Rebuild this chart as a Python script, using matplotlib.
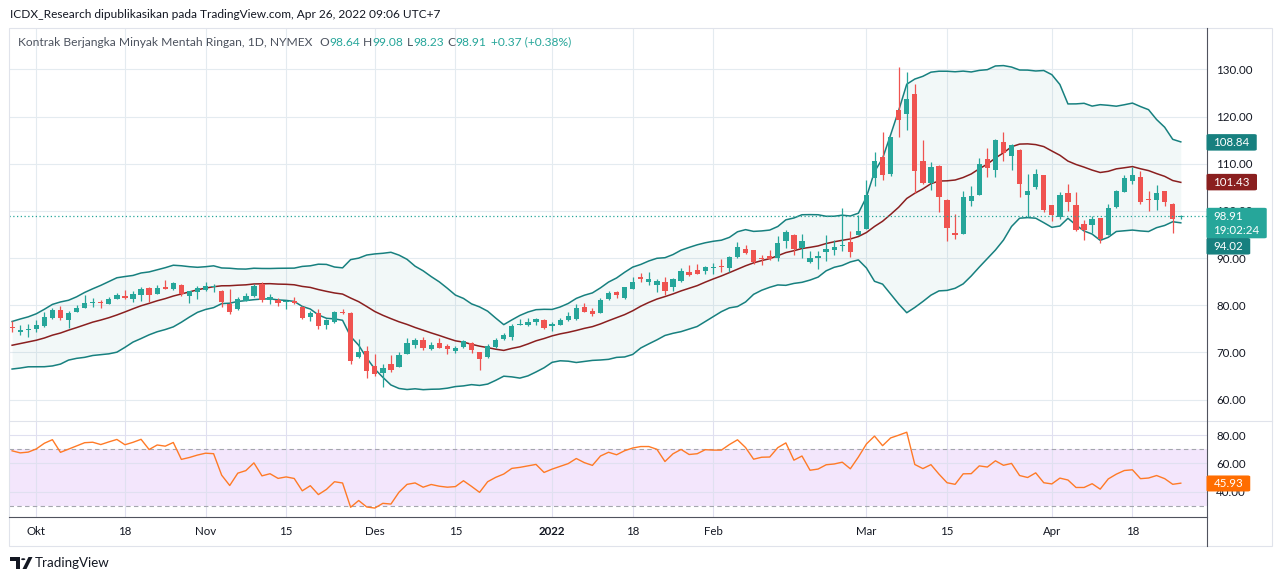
import numpy as np
import pandas as pd
import matplotlib
matplotlib.use('Agg')
import matplotlib.pyplot as plt
from matplotlib.lines import Line2D
from matplotlib.patches import Rectangle, FancyBboxPatch, Polygon, Circle

# ---------------- data ----------------
# closes of the sessions before the first visible bar (needed to warm up BB(20) / RSI(14))
warmup_closes = [68.50, 68.59, 69.99, 69.29, 68.35, 69.30, 67.68, 69.72, 70.45, 70.46,
                 72.61, 72.61, 71.97, 70.29, 70.56, 72.23, 73.30, 73.98, 75.45]

opens = [75.50, 74.35, 74.76, 75.03, 75.60, 77.40, 79.00, 76.80, 78.67, 79.50,
         80.42, 80.63, 80.35, 81.40, 81.96, 81.33, 82.24, 83.70, 82.45, 83.78,
         83.50, 84.34, 82.03, 82.87, 83.22, 83.80, 83.00, 80.28, 79.16, 80.98,
         81.89, 84.60, 81.12, 81.05, 80.63, 80.91, 79.70, 77.46, 78.45, 75.77,
         76.41, 78.59, 78.45, 69.08, 70.21, 67.04, 65.56, 67.61, 66.90, 69.65,
         71.69, 72.54, 70.70, 72.11, 71.27, 70.28, 71.13, 72.11, 70.00, 69.01,
         71.06, 72.96, 73.24, 75.92, 75.92, 76.41, 76.83, 75.56, 75.92, 76.83,
         77.18, 79.72, 78.87, 78.31, 81.27, 82.85, 81.57, 83.43, 86.00, 85.00,
         84.29, 84.93, 83.86, 85.14, 87.07, 87.50, 87.36, 88.00, 88.36, 87.86,
         90.14, 91.93, 91.71, 90.00, 90.35, 89.93, 93.72, 94.91, 92.10, 89.09,
         90.00, 91.19, 91.68, 92.53, 93.44, 94.91, 96.10, 107.05, 111.43, 107.90,
         121.38, 120.60, 124.77, 110.58, 105.92, 109.52, 102.32, 95.32, 95.11, 102.18,
         103.45, 111.00, 108.67, 114.60, 111.64, 112.91, 103.38, 105.07, 107.61, 101.19,
         98.79, 103.80, 101.26, 97.23, 97.09, 98.57, 94.90, 100.90, 104.08, 106.41,
         107.19, 102.53, 102.39, 104.22, 101.47, 98.64]
highs = [76.70, 75.80, 76.10, 76.80, 78.50, 79.50, 79.80, 78.80, 80.07, 82.20,
         81.50, 81.10, 81.70, 82.50, 83.20, 82.94, 83.78, 83.90, 84.27, 85.30,
         84.90, 84.48, 82.94, 84.06, 84.90, 84.60, 83.20, 83.43, 81.75, 82.60,
         84.60, 84.83, 82.38, 81.47, 81.12, 81.68, 79.90, 78.87, 79.30, 77.18,
         78.87, 79.30, 78.50, 72.96, 71.27, 69.58, 67.46, 69.37, 70.20, 73.17,
         73.17, 73.38, 72.32, 73.17, 71.83, 71.27, 72.54, 72.32, 70.00, 71.76,
         73.17, 74.23, 76.06, 77.04, 77.32, 77.39, 77.04, 76.41, 77.39, 78.66,
         80.35, 80.56, 79.44, 81.55, 83.10, 83.10, 83.90, 85.93, 86.79, 87.07,
         85.50, 85.93, 85.79, 87.86, 88.50, 88.79, 88.36, 89.00, 89.79, 90.50,
         93.36, 92.86, 91.71, 90.70, 91.75, 94.70, 96.00, 95.12, 95.12, 91.54,
         91.54, 94.90, 93.90, 100.60, 95.79, 99.05, 106.60, 112.49, 116.79, 115.66,
         130.50, 129.50, 126.90, 115.03, 110.30, 109.73, 102.53, 99.35, 104.29, 105.35,
         111.29, 113.33, 115.31, 116.72, 114.18, 113.05, 107.82, 108.88, 107.61, 101.19,
         103.94, 105.64, 103.94, 98.08, 99.00, 98.57, 101.47, 104.44, 107.61, 109.38,
         108.46, 104.15, 105.42, 104.22, 101.75, 99.08]
lows = [74.30, 73.80, 73.20, 74.30, 75.50, 77.20, 76.90, 75.20, 78.50, 79.50,
        79.60, 79.50, 80.30, 81.30, 81.26, 80.70, 80.90, 80.70, 82.30, 83.50,
        83.15, 82.03, 80.56, 81.33, 83.00, 82.90, 79.72, 78.25, 79.00, 80.90,
        81.75, 80.63, 80.35, 79.93, 79.23, 80.21, 77.00, 76.62, 75.00, 74.93,
        76.34, 78.10, 67.60, 68.90, 64.58, 65.00, 62.75, 65.85, 66.90, 69.65,
        71.05, 70.56, 70.49, 70.92, 69.65, 69.79, 71.00, 69.79, 66.27, 68.73,
        71.00, 72.54, 72.54, 75.77, 75.56, 75.92, 75.07, 74.51, 75.77, 76.62,
        76.90, 78.66, 77.82, 78.31, 81.20, 81.45, 81.43, 83.36, 85.00, 84.29,
        82.79, 82.14, 83.07, 85.00, 86.29, 86.57, 86.57, 86.57, 87.14, 87.14,
        90.00, 90.86, 88.71, 88.45, 89.50, 89.37, 92.10, 90.70, 90.10, 88.95,
        87.68, 89.30, 90.60, 91.61, 90.14, 94.91, 96.10, 105.35, 106.48, 107.47,
        115.73, 117.15, 103.87, 105.64, 104.44, 99.84, 93.70, 94.12, 95.11, 101.10,
        103.45, 107.19, 107.26, 110.58, 108.67, 103.02, 98.79, 104.65, 99.84, 97.94,
        98.29, 100.06, 95.82, 93.84, 95.25, 93.14, 94.90, 100.55, 104.08, 105.64,
        101.47, 100.06, 100.20, 101.12, 95.40, 98.23]
closes = [75.10, 74.83, 75.03, 75.88, 77.62, 78.93, 77.30, 78.30, 79.35, 80.52,
          80.70, 80.42, 81.31, 82.20, 81.60, 82.38, 83.43, 82.24, 83.64, 83.50,
          84.69, 82.45, 82.94, 83.57, 84.06, 84.00, 80.77, 78.60, 81.26, 81.89,
          83.99, 81.12, 81.68, 80.56, 80.91, 80.56, 77.35, 78.45, 75.70, 76.83,
          78.66, 78.31, 68.17, 70.00, 66.06, 65.35, 66.62, 66.20, 69.50, 72.05,
          72.54, 70.85, 71.69, 71.05, 70.70, 70.85, 72.40, 70.63, 68.52, 71.41,
          72.75, 73.80, 75.70, 76.06, 76.55, 77.04, 75.14, 76.13, 76.97, 77.82,
          79.50, 78.66, 78.10, 81.20, 82.68, 82.20, 83.79, 84.93, 85.57, 85.57,
          85.14, 83.07, 85.64, 87.36, 86.43, 86.71, 88.21, 88.14, 88.14, 90.21,
          92.36, 91.14, 89.07, 89.72, 89.79, 93.23, 95.47, 91.96, 93.65, 90.00,
          90.42, 91.96, 92.25, 92.88, 91.33, 95.75, 103.33, 110.58, 107.61, 115.66,
          119.27, 123.71, 108.53, 105.92, 109.31, 103.02, 96.31, 94.97, 103.02, 103.16,
          109.94, 109.17, 115.03, 112.20, 113.90, 105.71, 104.22, 107.82, 100.20, 99.21,
          103.38, 101.96, 95.96, 95.96, 98.29, 94.05, 100.69, 104.22, 107.05, 107.61,
          101.82, 102.25, 103.87, 101.96, 98.29, 98.91]

holidays = ['2021-11-25', '2021-12-24', '2022-01-17', '2022-02-21', '2022-04-15']
dates = pd.bdate_range('2021-09-28', '2022-04-26', freq='C', holidays=holidays)

tick_dates = ['2021-10-01', '2021-10-18', '2021-11-01', '2021-11-15', '2021-12-01',
              '2021-12-15', '2022-01-03', '2022-01-18', '2022-02-01', '2022-03-01',
              '2022-03-15', '2022-04-01', '2022-04-18']
tick_labels = ['Okt', '18', 'Nov', '15', 'Des', '15', '2022', '18', 'Feb', 'Mar', '15', 'Apr', '18']

price_ticks = [60, 70, 80, 90, 100, 110, 120, 130]
rsi_ticks = [40, 60, 80]

legend_name = 'Kontrak Berjangka Minyak Mentah Ringan, 1D, NYMEX'
legend_ohlc = [('O', '98.64'), ('H', '99.08'), ('L', '98.23'), ('C', '98.91')]
legend_change = '+0.37 (+0.38%)'
header = 'ICDX_Research dipublikasikan pada TradingView.com, Apr 26, 2022 09:06 UTC+7'
bb_labels = {'upper': 108.84, 'basis': 101.43, 'lower': 94.02}
last_price_label = 98.91
countdown = '19:02:24'
rsi_label = 45.93

# ---------------- indicators ----------------
o = np.array(opens); h = np.array(highs); l = np.array(lows); c = np.array(closes)
n = len(c)
assert len(dates) == n
allc = np.array(warmup_closes + closes)
s = pd.Series(allc)
k0 = len(warmup_closes)
basis = s.rolling(20).mean().values[k0:]
dev = s.rolling(20).std(ddof=0).values[k0:]
upper = basis + 2 * dev
lower = basis - 2 * dev

delta = np.diff(allc)
gain = np.clip(delta, 0, None)
loss = np.clip(-delta, 0, None)


def rma(v, p):
    out = np.full(len(v), np.nan)
    out[p - 1] = v[:p].mean()
    for k in range(p, len(v)):
        out[k] = (out[k - 1] * (p - 1) + v[k]) / p
    return out


ag = rma(gain, 14)
al = rma(loss, 14)
rsi = (100 - 100 / (1 + ag / al))[k0 - 1:]

# ---------------- figure ----------------
W, H = 1280, 581
FONT = ['Lato', 'DejaVu Sans']
plt.rcParams['font.family'] = FONT
fig = plt.figure(figsize=(12.8, 5.81), dpi=100)
fig.patch.set_facecolor('white')


def fx(px):
    return px / W


def fy(py):
    return 1 - py / H


UP, DN = '#26a69a', '#ef5350'
GRID = '#e4ebf0'
TXT = '#131722'
BBCOL = '#17807f'
BASIS = '#8a1f1f'
RSICOL = '#ff7a26'
RSITAG = '#ff6d00'
FS = 8.3

L_PX, R_PX = 9.0, 1206.5
MAIN_T, MAIN_B = 28.0, 421.0
RSI_T, RSI_B = 421.5, 517.0

ax = fig.add_axes([fx(L_PX), fy(MAIN_B), (R_PX - L_PX) / W, (MAIN_B - MAIN_T) / H])
ax_bb = ax.twinx()
ax_c = ax.twinx()
ax_r = fig.add_axes([fx(L_PX), fy(RSI_B), (R_PX - L_PX) / W, (RSI_B - RSI_T) / H], sharex=ax)

x = np.arange(n)
tick_idx = [dates.get_loc(pd.Timestamp(d)) for d in tick_dates]
ax.set_xlim(-0.385, 148.19)

# main pane: grid + price scale
ax.set_ylim(55.48, 138.76)
ax.yaxis.tick_right()
ax.set_yticks(price_ticks)
ax.set_yticklabels([f'{v:.2f}' for v in price_ticks])
ax.set_xticks(tick_idx)
ax.tick_params(axis='x', length=0, labelbottom=False)
ax.tick_params(axis='y', length=0, pad=7.0, labelsize=FS, labelcolor=TXT)
ax.grid(True, color=GRID, lw=0.8)
for sp in ax.spines.values():
    sp.set_visible(False)

# Bollinger bands on their own (hidden) scale
ax_bb.set_ylim(56.90, 130.16)
ax_bb.set_axis_off()
ax_bb.fill_between(x, lower, upper, color='#138484', alpha=0.05, lw=0)
ax_bb.plot(x, upper, color=BBCOL, lw=1.1)
ax_bb.plot(x, lower, color=BBCOL, lw=1.1)
ax_bb.plot(x, basis, color=BASIS, lw=1.1)

# candles
ax_c.set_ylim(55.48, 138.76)
ax_c.set_axis_off()
up = c >= o
cols = np.where(up, UP, DN)
ax_c.vlines(x, l, h, colors=cols, lw=0.9)
body = np.maximum(np.abs(c - o), 0.18)
ax_c.bar(x, body, bottom=np.minimum(o, c), width=0.66, color=cols, lw=0)
ax_c.axhline(c[-1], color=UP, lw=0.9, ls=(0, (1, 2)))

# RSI pane
ax_r.set_ylim(22.32, 89.58)
ax_r.axhspan(30, 70, color='#f3e6fc', lw=0, zorder=0.5)
ax_r.yaxis.tick_right()
ax_r.set_yticks(rsi_ticks)
ax_r.set_yticklabels([f'{v:.2f}' for v in rsi_ticks])
ax_r.set_xticks(tick_idx)
ax_r.set_xticklabels(tick_labels)
ax_r.tick_params(axis='x', length=0, pad=6.5, labelsize=FS, labelcolor=TXT)
ax_r.tick_params(axis='y', length=0, pad=7.0, labelsize=FS, labelcolor=TXT)
for lbl in ax_r.get_xticklabels():
    if lbl.get_text() == '2022':
        lbl.set_fontweight('bold')
ax_r.grid(True, color='#e0e0f0', lw=0.8)
ax_r.axhline(70, color='#a4a6ae', lw=0.8, ls=(0, (4, 3)))
ax_r.axhline(30, color='#a4a6ae', lw=0.8, ls=(0, (4, 3)))
ax_r.plot(x, rsi, color=RSICOL, lw=1.0)
for sp in ax_r.spines.values():
    sp.set_visible(False)

# frame / separators
fig.add_artist(Rectangle((fx(8.5), fy(545.5)), (1271.5 - 8.5) / W, (545.5 - 27.5) / H,
                         transform=fig.transFigure, fill=False, ec='#e0e3eb', lw=0.8, zorder=9))


def fline(x0, y0, x1, y1, color, lw=0.8):
    fig.add_artist(Line2D([fx(x0), fx(x1)], [fy(y0), fy(y1)], transform=fig.transFigure,
                          color=color, lw=lw, zorder=10))


fline(8.5, 421.2, 1271.5, 421.2, '#e0e3eb')
fline(R_PX, 27.5, R_PX, 545.5, '#50535e')
fline(8.5, RSI_B, R_PX, RSI_B, '#50535e')

renderer = fig.canvas.get_renderer()

# header and legend
fig.text(fx(10), fy(14), header, fontsize=8.6, color=TXT, ha='left', va='center')


def put(xp, yp, s_, col, fs=8.65):
    t = fig.text(fx(xp), fy(yp), s_, fontsize=fs, color=col, ha='left', va='center', zorder=11)
    return xp + t.get_window_extent(renderer).width


xp = put(18, 42, legend_name, '#4c525e')
xp += 7
for lab, val in legend_ohlc:
    xp = put(xp, 42, lab, '#4c525e')
    xp = put(xp, 42, val, UP)
    xp += 3.5
put(xp + 1, 42, legend_change, UP)


# price-axis tags
def tag(lines, y_first, bg, line_h=14.0, padx=7.0, h0=16.5):
    widths = []
    for k, s_ in enumerate(lines):
        t = fig.text(fx(R_PX + padx), fy(y_first + k * line_h), s_, fontsize=FS, color='white',
                     ha='left', va='center', zorder=13)
        widths.append(t.get_window_extent(renderer).width)
    wbox = max(widths) + 2 * padx
    top = y_first - h0 / 2
    hbox = h0 + (len(lines) - 1) * line_h
    fig.add_artist(FancyBboxPatch((fx(R_PX), fy(top + hbox)), wbox / W, hbox / H,
                                  boxstyle='round,pad=0,rounding_size=0.002',
                                  transform=fig.transFigure, fc=bg, ec='none', zorder=12))
    return top + hbox


def ypix(axis, v):
    return H - axis.transData.transform((0, v))[1]


tag([f"{bb_labels['upper']:.2f}"], ypix(ax_bb, bb_labels['upper']), BBCOL)
tag([f"{bb_labels['basis']:.2f}"], ypix(ax_bb, bb_labels['basis']), BASIS)
bottom_last = tag([f'{last_price_label:.2f}', countdown], ypix(ax_c, last_price_label), UP)
tag([f"{bb_labels['lower']:.2f}"], max(ypix(ax_bb, bb_labels['lower']), bottom_last + 8.0), BBCOL)
tag([f'{rsi_label:.2f}'], ypix(ax_r, rsi_label), RSITAG, h0=16.0)

# TradingView logo
LOGO = '#131722'
fig.add_artist(Polygon([(fx(10), fy(557)), (fx(20), fy(557)), (fx(20), fy(569)), (fx(16), fy(569)),
                        (fx(16), fy(561)), (fx(10), fy(561))], closed=True,
                       transform=fig.transFigure, fc=LOGO, ec='none'))
fig.add_artist(Circle((fx(23.2), fy(559.2)), 2.1 / W, transform=fig.transFigure, fc=LOGO, ec='none'))
fig.add_artist(Polygon([(fx(22.5), fy(569)), (fx(28.5), fy(557)), (fx(32.5), fy(557)), (fx(26.5), fy(569))],
                       closed=True, transform=fig.transFigure, fc=LOGO, ec='none'))
fig.text(fx(35), fy(563), 'TradingView', fontsize=9.6, color=LOGO, ha='left', va='center')

fig.savefig('out.png', dpi=100, facecolor='white')
